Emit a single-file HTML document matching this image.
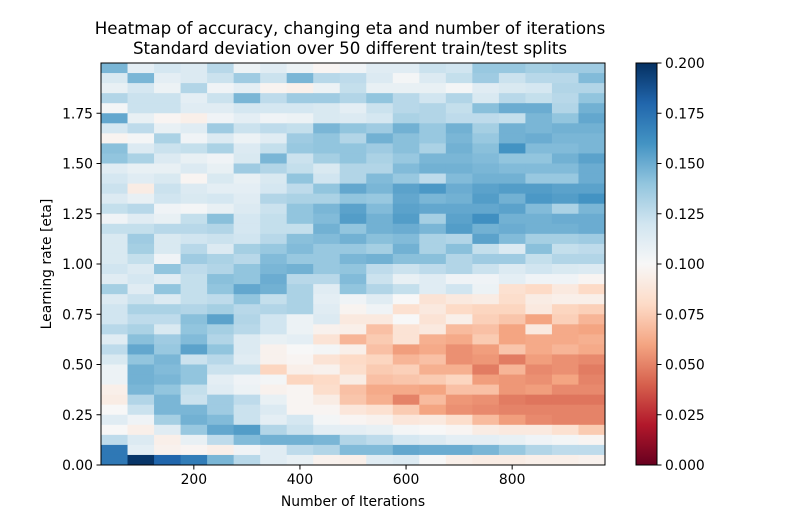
<!DOCTYPE html>
<html><head><meta charset="utf-8"><style>
body{margin:0;background:#fff;font-family:"Liberation Sans","DejaVu Sans",sans-serif;}
svg text{font-family:"DejaVu Sans","Liberation Sans",sans-serif;}
</style></head><body>
<svg id="chart" width="811" height="523" xmlns="http://www.w3.org/2000/svg">
<defs><linearGradient id="cbg" x1="0" y1="1" x2="0" y2="0"></linearGradient></defs>
<text x="350" y="34" text-anchor="middle" font-size="16.67">Heatmap of accuracy, changing eta and number of iterations</text>
<text x="350" y="54" text-anchor="middle" font-size="16.67">Standard deviation over 50 different train/test splits</text>
<g id="cells"></g>
<rect x="101" y="63" width="504" height="402" fill="none" stroke="#000" stroke-width="1"/>
<g id="xt"></g>
<g id="yt"></g>
<text x="353" y="506" text-anchor="middle" font-size="13.9">Number of Iterations</text>
<text transform="translate(51,264) rotate(-90)" text-anchor="middle" font-size="13.9">Learning rate [eta]</text>
<rect x="636" y="63" width="21" height="402" fill="url(#cbg)" stroke="#000" stroke-width="1"/>
<g id="ct"></g>
</svg>
<script>
const iterations=[50,100,150,200,250,300,350,400,450,500,550,600,650,700,750,800,850,900,950];
const stdRows=[
[146,110,118,114,128,106,112,106,98,104,112,112,122,120,138,138,134,136,136],
[116,146,110,114,122,136,122,146,128,126,114,102,114,124,136,122,128,128,144],
[108,118,106,130,104,110,97,95,106,124,108,108,108,102,112,116,118,130,130],
[130,122,122,110,122,146,126,136,136,130,140,128,120,130,116,128,124,128,140],
[102,122,122,112,112,118,118,118,116,110,122,128,130,124,142,150,150,130,148],
[152,108,98,94,104,110,104,106,116,114,118,132,130,126,126,124,146,140,152],
[118,126,108,112,136,122,126,124,146,140,136,148,138,148,134,148,146,148,148],
[97,102,132,104,114,106,112,136,140,130,148,142,138,146,138,148,150,146,146],
[142,114,122,124,132,114,124,138,140,140,136,142,132,148,142,160,144,144,146],
[140,132,114,108,104,116,146,122,134,140,132,138,146,146,144,140,140,148,154],
[112,108,108,114,108,136,130,124,116,130,130,144,148,148,146,144,144,144,150],
[118,112,116,98,116,108,116,140,120,130,144,138,126,144,148,148,138,138,150],
[122,92,122,114,110,110,118,126,140,152,146,154,158,150,154,156,156,154,154],
[114,108,120,116,118,112,130,132,132,140,138,152,146,148,156,148,158,156,160],
[124,128,104,102,108,114,122,140,146,154,144,154,152,152,152,154,144,132,146],
[104,112,108,124,142,118,124,140,144,156,148,156,134,154,162,148,148,150,150],
[124,124,128,128,130,118,124,124,148,140,148,150,146,156,148,150,148,148,150],
[116,136,116,120,122,120,128,142,144,148,142,144,132,130,154,144,134,134,136],
[116,134,116,128,114,134,138,144,138,138,134,148,132,142,124,114,142,124,126],
[116,124,104,136,132,128,144,138,138,146,148,142,142,130,136,136,124,130,130],
[120,114,140,126,130,140,146,148,138,140,126,122,126,130,122,114,120,116,114],
[112,118,112,124,142,140,150,128,128,144,122,108,112,104,104,110,104,104,98],
[134,112,140,124,140,152,148,132,112,140,130,124,112,120,106,84,80,90,80],
[114,122,114,124,126,140,124,132,110,104,112,100,86,90,92,82,92,94,94],
[120,132,132,130,134,128,130,132,112,97,104,84,90,80,78,78,90,78,76],
[120,126,126,142,154,130,120,106,114,90,90,100,86,94,76,72,60,76,66],
[128,132,116,140,134,128,120,106,96,94,70,86,90,68,70,60,90,62,60],
[112,142,136,144,130,114,108,110,86,66,74,86,64,62,74,60,62,62,64],
[126,152,138,154,140,114,96,100,102,94,70,58,62,54,58,72,62,66,62],
[116,140,146,122,128,112,96,98,86,80,78,66,70,54,56,48,58,54,52],
[106,148,144,140,122,122,78,94,96,82,74,76,64,64,48,66,52,54,48],
[106,148,146,140,110,104,102,78,80,92,70,72,74,78,58,56,54,60,50],
[94,146,140,124,112,106,96,98,82,70,62,62,60,70,70,56,58,52,52],
[92,130,146,122,136,126,108,98,92,72,64,50,68,56,54,48,46,46,46],
[100,122,146,146,136,122,114,98,98,88,84,74,60,54,52,50,50,50,50],
[112,104,134,148,144,122,110,118,102,98,96,88,90,82,68,58,52,50,50],
[100,94,112,138,152,156,130,122,110,110,108,102,100,98,92,90,90,84,74],
[126,114,94,108,126,144,148,148,146,130,126,118,114,110,110,108,104,102,98],
[172,110,96,98,94,104,112,126,130,144,144,152,150,150,146,138,130,126,126],
[172,198,180,170,146,128,112,108,96,94,112,114,100,94,92,92,94,94,96]
];
const xTicks=[200,400,600,800];
const yTicks=[0,0.25,0.5,0.75,1.0,1.25,1.5,1.75];
const cTicks=[0,0.025,0.05,0.075,0.1,0.125,0.15,0.175,0.2];

const NS="http://www.w3.org/2000/svg";
const X0=101,X1=605,Y0=465,Y1=63;
const xS=v=>X0+(v-25)/(975-25)*(X1-X0);
const yS=v=>Y0-(v/2.0)*(Y0-Y1);
const cY=v=>465-v/0.2*402;
const stops=['#67001f','#b2182b','#d6604d','#f4a582','#fddbc7','#f7f7f7','#d1e5f0','#92c5de','#4393c3','#2166ac','#053061'];
function hex(h){return [1,3,5].map(i=>parseInt(h.substr(i,2),16));}
function cmap(t){t=Math.max(0,Math.min(1,t))*10;const i=Math.min(9,Math.floor(t)),f=t-i;const a=hex(stops[i]),b=hex(stops[i+1]);return 'rgb('+a.map((c,k)=>Math.round(c+(b[k]-c)*f)).join(',')+')';}
function mk(tag,attrs,parent){const e=document.createElementNS(NS,tag);for(const k in attrs)e.setAttribute(k,attrs[k]);parent.appendChild(e);return e;}
const cells=document.getElementById('cells');
stdRows.forEach((row,r)=>{
  const etaTop=2.0-r*0.05, etaBot=etaTop-0.05;
  row.forEach((v,c)=>{
    const it=iterations[c];
    const r0=mk('rect',{x:xS(it-25),y:yS(etaTop),width:xS(it+25)-xS(it-25)+0.5,height:yS(etaBot)-yS(etaTop)+0.5,fill:cmap(v/1000/0.2)},cells);
    
    
  });
});
const xt=document.getElementById('xt');
xTicks.forEach(v=>{const x=xS(v);
  const l=mk('line',{x1:x,x2:x,y1:465,y2:469.5,stroke:'#000'},xt);
  
  
  const t=mk('text',{x:x,y:484,'text-anchor':'middle','font-size':13.9},xt);t.textContent=v;
  
  
});
const yt=document.getElementById('yt');
yTicks.forEach(v=>{const y=yS(v);
  const l=mk('line',{x1:96.5,x2:101,y1:y,y2:y,stroke:'#000'},yt);
  
  
  const t=mk('text',{x:93,y:y+5,'text-anchor':'end','font-size':13.9},yt);t.textContent=v.toFixed(2);
  
  
});
const g=document.getElementById('cbg');
for(let i=0;i<=20;i++){mk('stop',{offset:(i/20),'stop-color':cmap(i/20)},g);}
const ct=document.getElementById('ct');
cTicks.forEach(v=>{const y=cY(v);
  const l=mk('line',{x1:657,x2:661.5,y1:y,y2:y,stroke:'#000'},ct);
  
  
  const t=mk('text',{x:665,y:y+5,'font-size':13.9},ct);t.textContent=v.toFixed(3);
  
  
});
</script>
</body></html>
